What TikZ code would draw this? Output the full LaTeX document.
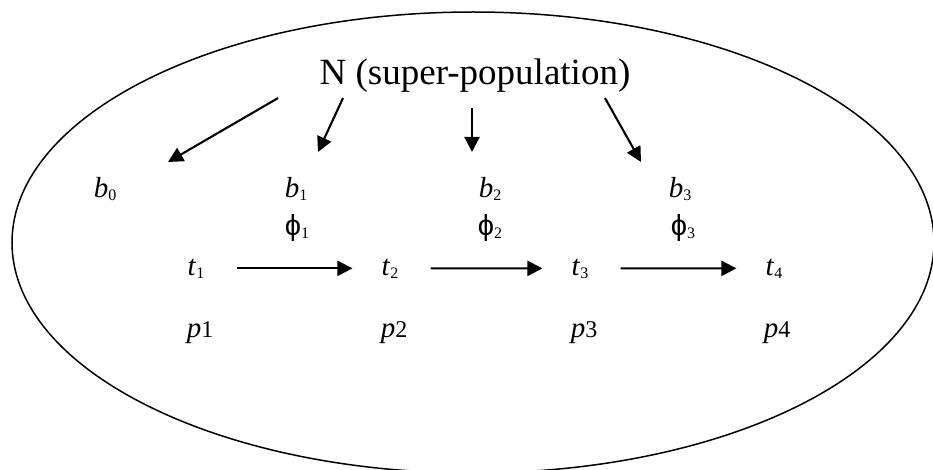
\documentclass[tikz,border=0pt]{standalone}
\usepackage{fontspec}
\setmainfont{Liberation Serif}
\newfontfamily\phifont{Liberation Sans}
\usetikzlibrary{arrows.meta}
\newcommand{\idx}[1]{\raisebox{-3pt}{\fontsize{16}{18}\selectfont #1}}

\begin{document}
\begin{tikzpicture}[
    x=1pt, y=-1pt,
    lbl/.style={font=\fontsize{29}{34}\selectfont, anchor=base, inner sep=2pt},
    link/.style={-{Triangle[length=15pt,width=15pt]}, line width=2.1pt},
    rim/.style={line width=1.5pt}
  ]
  \useasboundingbox (0,0) rectangle (933,470);
  \draw[rim] (473,242.5) ellipse [x radius=461pt, y radius=230.5pt];

  \node[lbl, font=\fontsize{37}{44}\selectfont] (N) at (475,85) {N (super-population)};

  \node[lbl] (b0) at (105,198) {\textit{b}\idx{0}};
  \node[lbl] (b1) at (296,198) {\textit{b}\idx{1}};
  \node[lbl] (b2) at (490,198) {\textit{b}\idx{2}};
  \node[lbl] (b3) at (680,198) {\textit{b}\idx{3}};

  \node[lbl] (f1) at (297,235) {{\phifont ϕ}\idx{1}};
  \node[lbl] (f2) at (490,235) {{\phifont ϕ}\idx{2}};
  \node[lbl] (f3) at (683,235) {{\phifont ϕ}\idx{3}};

  \node[lbl] (t1) at (196,275) {\textit{t}\idx{1}};
  \node[lbl] (t2) at (390,275) {\textit{t}\idx{2}};
  \node[lbl] (t3) at (580,275) {\textit{t}\idx{3}};
  \node[lbl] (t4) at (774,275) {\textit{t}\idx{4}};

  \node[lbl] (p1) at (200,337) {\textit{p}{\fontsize{24}{28}\selectfont 1}};
  \node[lbl] (p2) at (394,337) {\textit{p}{\fontsize{24}{28}\selectfont 2}};
  \node[lbl] (p3) at (584,337) {\textit{p}{\fontsize{24}{28}\selectfont 3}};
  \node[lbl] (p4) at (777,337) {\textit{p}{\fontsize{24}{28}\selectfont 4}};

  \coordinate (h0) at (168,162);
  \coordinate (h1) at (318,152);
  \coordinate (h2) at (472,152);
  \coordinate (h3) at (641,162);

  \draw[link] ([xshift=-197pt,yshift=-3pt]N.south) -- (h0);
  \draw[link] ([xshift=-132pt,yshift=-3pt]N.south) -- (h1);
  \draw[link] ([xshift=-3pt,yshift=-13pt]N.south) -- (h2);
  \draw[link] ([xshift=130pt,yshift=-3pt]N.south) -- (h3);

  \draw[link, shorten <=30pt, shorten >=27pt] (t1) -- (t2);
  \draw[link, shorten <=30pt, shorten >=27pt] (t2) -- (t3);
  \draw[link, shorten <=30pt, shorten >=27pt] (t3) -- (t4);
\end{tikzpicture}
\end{document}
